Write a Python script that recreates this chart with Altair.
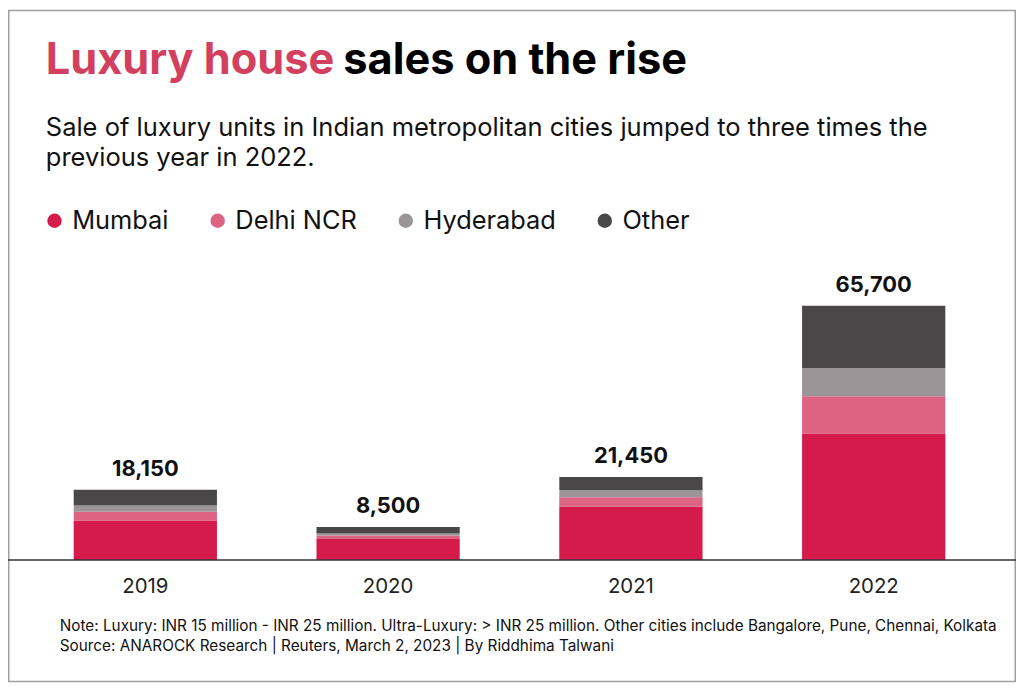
import altair as alt
import pandas as pd

years = ["2019", "2020", "2021", "2022"]
cities = ["Mumbai", "Delhi NCR", "Hyderabad", "Other"]
colors = ["#D41B4C", "#DD6382", "#9C9597", "#4A4749"]
mumbai = [10200, 5400, 13750, 32700]
delhi = [2250, 900, 2450, 9600]
hyderabad = [1600, 550, 1900, 7300]
other = [4100, 1650, 3350, 16100]

title_red = "Luxury house"
title_black = "sales on the rise"
subtitle = ["Sale of luxury units in Indian metropolitan cities jumped to three times the",
            "previous year in 2022."]
notes = ["Note: Luxury: INR 15 million - INR 25 million. Ultra-Luxury: > INR 25 million. Other cities include Bangalore, Pune, Chennai, Kolkata",
         "Source: ANAROCK Research | Reuters, March 2, 2023 | By Riddhima Talwani"]

series = [mumbai, delhi, hyderabad, other]
rows = []
for ci, (c, vals) in enumerate(zip(cities, series)):
    for y, v in zip(years, vals):
        rows.append({"year": y, "city": c, "units": v, "idx": ci})
df = pd.DataFrame(rows)

FONT = "Inter"
W, H = 976, 280
PAD = {"left": 16, "top": 273, "right": 21, "bottom": 123}

xenc = alt.X("year:N", sort=years,
             scale=alt.Scale(paddingInner=0.41, paddingOuter=0.205),
             axis=alt.Axis(title=None, labelAngle=0, labelFontSize=20.5, labelColor="#222222",
                           labelFont=FONT, ticks=False, domain=False, labelPadding=17, grid=False))

bars = alt.Chart(df).mark_bar().encode(
    x=xenc,
    y=alt.Y("sum(units):Q", stack="zero", scale=alt.Scale(domain=[0, 72000], nice=False),
            axis=None),
    color=alt.Color("city:N", sort=cities,
                    scale=alt.Scale(domain=cities, range=colors),
                    legend=alt.Legend(title=None, orient="none", direction="horizontal",
                                      legendX=18, legendY=-74, labelFontSize=25.5, labelFont=FONT,
                                      labelColor="#111111", symbolType="circle", symbolSize=210,
                                      symbolStrokeWidth=0, labelOffset=5, columnPadding=36)),
    order=alt.Order("idx:Q", sort="ascending"),
)

totals = alt.Chart(df).transform_aggregate(
    total="sum(units)", groupby=["year"]
).mark_text(fontSize=22, fontWeight="bold", font=FONT, baseline="alphabetic", dy=-14,
            color="#111111").encode(
    x=alt.X("year:N", sort=years),
    y=alt.Y("total:Q"),
    text=alt.Text("total:Q", format=",.0f"),
)

baseline = alt.Chart(pd.DataFrame({"a": [0]})).mark_rule(color="#333333", strokeWidth=1.5).encode(
    x=alt.value(-16), x2=alt.value(997), y=alt.value(H)
)

border = alt.Chart(pd.DataFrame({"a": [0]})).mark_rect(
    fillOpacity=0, stroke="#A0A0A0", strokeWidth=1.5).encode(
    x=alt.value(-15.25), x2=alt.value(996.25), y=alt.value(-272.25), y2=alt.value(H + 122.25)
)

def text_layer(txt, x, y, size, color, weight="normal"):
    return alt.Chart(pd.DataFrame({"t": [txt]})).mark_text(
        align="left", baseline="alphabetic", fontSize=size, font=FONT,
        fontWeight=weight, color=color).encode(
        text="t:N", x=alt.value(x), y=alt.value(y))

t1 = text_layer(title_red, 22, -208, 43.5, "#D33F5E", "bold")
t2 = text_layer(title_black, 321, -208, 43.5, "#000000", "bold")
s1 = text_layer(subtitle[0], 22, -146, 25.6, "#111111")
s2 = text_layer(subtitle[1], 22, -116, 25.6, "#111111")
n1 = text_layer(notes[0], 36, 351, 15.4, "#111111")
n2 = text_layer(notes[1], 36, 372, 15.4, "#111111")

chart = alt.layer(border, bars, totals, baseline, t1, t2, s1, s2, n1, n2).properties(
    width=W, height=H, padding=PAD, autosize=alt.AutoSizeParams(type="none"),
    background="white"
).configure_view(stroke=None)

chart.save("out.html", embed_options={"renderer": "svg", "actions": False})
